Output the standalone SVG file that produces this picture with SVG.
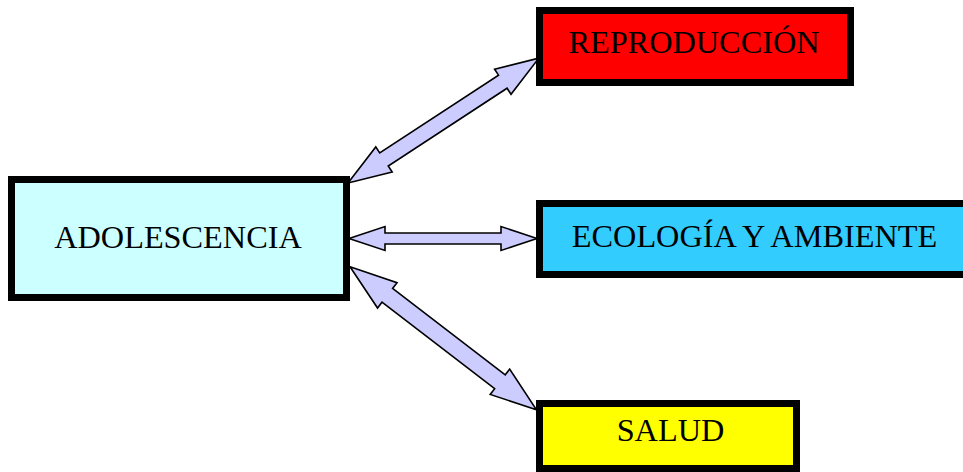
<svg xmlns="http://www.w3.org/2000/svg" width="963" height="472" viewBox="0 0 963 472">
<style>
.box{stroke:#000;stroke-width:7}
.lbl{font-family:"Liberation Serif","Times New Roman",serif;font-size:32.3px;fill:#000;text-anchor:middle}
.arr{fill:#ccccff;stroke:#000;stroke-width:1.6;stroke-linejoin:miter}
</style>
<rect width="963" height="472" fill="#fff"/>
<g id="connectors">
<path class="arr" transform="translate(348,183) rotate(-33.2)" d="M0,0 L43,-15 L43,-7.8 L185,-7.8 L185,-15 L228,0 L185,15 L185,7.8 L43,7.8 L43,15 Z"/>
<path class="arr" transform="translate(349,238.5)" d="M0,0 L36,-12 L36,-5.5 L152,-5.5 L152,-12 L188,0 L152,12 L152,5.5 L36,5.5 L36,12 Z"/>
<path class="arr" transform="translate(350,266.7) rotate(37.5)" d="M0,0 L47,-16 L47,-8.7 L189,-8.7 L189,-16 L235,0 L189,16 L189,8.7 L47,8.7 L47,16 Z"/>
</g>
<g id="adolescencia">
<rect class="box" x="11.5" y="179.5" width="335" height="118" fill="#ccffff"/>
<text class="lbl" x="178" y="247.5">ADOLESCENCIA</text>
</g>
<g id="reproduccion">
<rect class="box" x="539.5" y="10.5" width="311" height="72" fill="#ff0000"/>
<text class="lbl" x="694" y="52.5">REPRODUCCIÓN</text>
</g>
<g id="ecologia">
<rect class="box" x="539.5" y="203.5" width="440" height="71" fill="#33ccff"/>
<text class="lbl" x="754.5" y="247">ECOLOGÍA Y AMBIENTE</text>
</g>
<g id="salud">
<rect class="box" x="539.5" y="403.5" width="257" height="65" fill="#ffff00"/>
<text class="lbl" x="670.5" y="441">SALUD</text>
</g>
</svg>
